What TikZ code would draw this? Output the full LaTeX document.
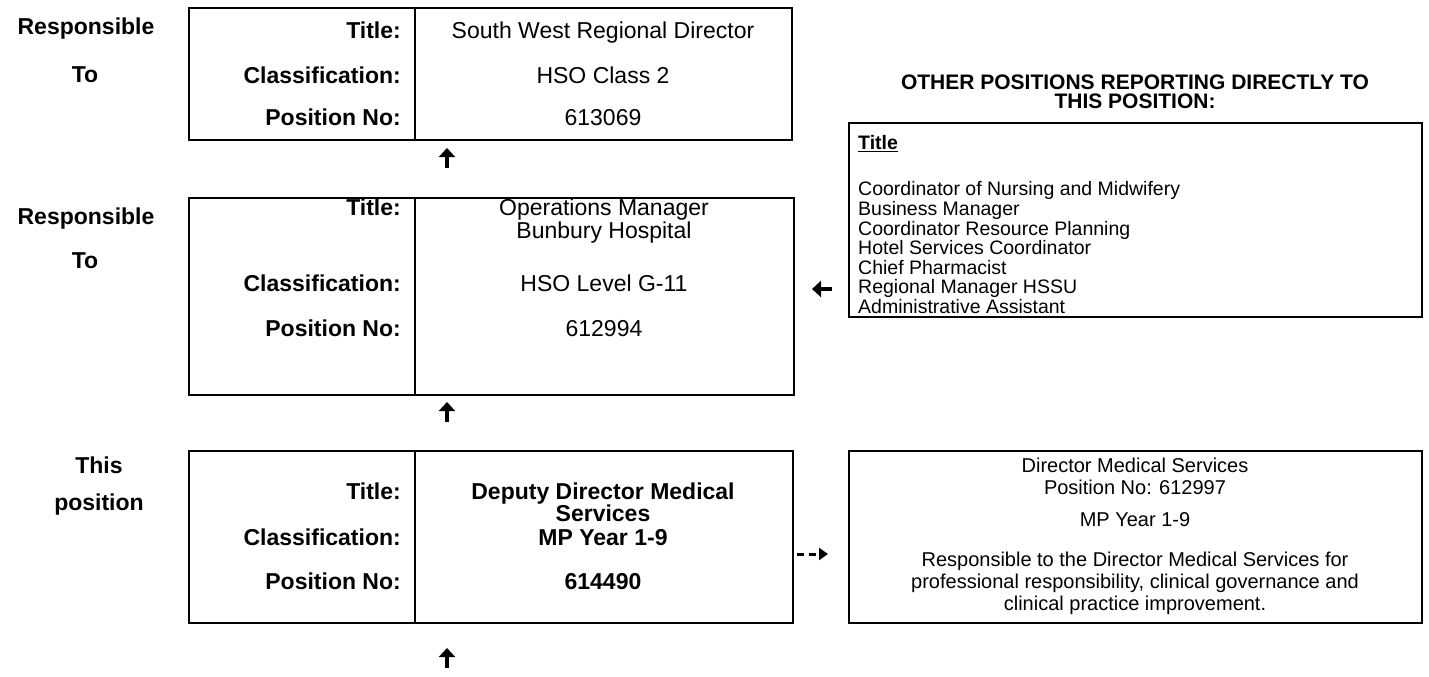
\documentclass[tikz,border=0pt]{standalone}
\usepackage{fontspec}
\setmainfont{Liberation Sans}
\usetikzlibrary{arrows.meta}
\begin{document}
\begin{tikzpicture}[x=1pt,y=-1pt,
  box/.style={draw,line width=2pt,anchor=north west,inner sep=0pt},
  div/.style={line width=1.6pt},
  lbl/.style={font=\fontsize{23}{23}\selectfont\bfseries,anchor=base east,inner sep=0pt},
  val/.style={font=\fontsize{23}{23}\selectfont,anchor=base,inner sep=0pt},
  bval/.style={font=\fontsize{23}{23}\selectfont\bfseries,anchor=base,inner sep=0pt},
  side/.style={font=\fontsize{23}{23}\selectfont\bfseries,anchor=base,inner sep=0pt},
  uparrow/.style={line width=4pt,-{Triangle[width=16pt,length=9pt]}},
  dasharrow/.style={line width=3pt,dash pattern=on 7pt off 5pt,-{Triangle[width=12pt,length=9pt]}},
]
\useasboundingbox (0,0) rectangle (1429,677);

% ---------- box 1
\node[box,minimum width=603pt,minimum height=132pt] (b1) at (188,7) {};
\draw[div] ([xshift=227pt]b1.north west) -- ([xshift=227pt]b1.south west);
\node[side] (r1a) at (86,35) {Responsible};
\node[side] (r1b) at (85,82) {To};
\node[lbl] (t1) at (401,39) {Title:};
\node[lbl] (c1) at (401,83) {Classification:};
\node[lbl] (p1) at (401,125) {Position No:};
\node[val] (tv1) at (603,39) {South West Regional Director};
\node[val] (cv1) at (603,83) {HSO Class 2};
\node[val] (pv1) at (603,125) {613069};

\coordinate (a1s) at (447,168);
\coordinate (a1e) at (447,148);
\draw[uparrow] (a1s) -- (a1e);

% ---------- box 2
\node[box,minimum width=605pt,minimum height=197pt] (b2) at (188,197) {};
\draw[div] ([xshift=227pt]b2.north west) -- ([xshift=227pt]b2.south west);
\node[side] (r2a) at (86,224) {Responsible};
\node[side] (r2b) at (85,268) {To};
\node[lbl] (t2) at (401,215) {Title:};
\node[lbl] (c2) at (401,291) {Classification:};
\node[lbl] (p2) at (401,336) {Position No:};
\node[val] (tv2) at (604,215) {Operations Manager};
\node[val] (tv2b) at (604,238) {Bunbury Hospital};
\node[val] (cv2) at (604,291) {HSO Level G-11};
\node[val] (pv2) at (604,336) {612994};

\coordinate (a2s) at (447,422);
\coordinate (a2e) at (447,402);
\draw[uparrow] (a2s) -- (a2e);

% ---------- other positions
\node[font=\fontsize{21}{19}\selectfont\bfseries,align=center,anchor=north,inner sep=0pt] (hdr) at (1135,75)
  {OTHER POSITIONS REPORTING DIRECTLY TO\\THIS POSITION:};
\node[box,minimum width=573pt,minimum height=194pt] (rb) at (848,122) {};
\node[font=\fontsize{19.5}{19.6}\selectfont,align=left,anchor=north west,inner sep=0pt] (lst) at (858,135)
  {\underline{\textbf{Title}}\\[27pt]
   Coordinator of Nursing and Midwifery\\
   Business Manager\\
   Coordinator Resource Planning\\
   Hotel Services Coordinator\\
   Chief Pharmacist\\
   Regional Manager HSSU\\
   Administrative Assistant};
\coordinate (la1) at (832,289);
\coordinate (la2) at (812,289);
\draw[uparrow] (la1) -- (la2);

% ---------- box 3
\node[box,minimum width=604pt,minimum height=172pt] (b3) at (188,450) {};
\draw[div] ([xshift=227pt]b3.north west) -- ([xshift=227pt]b3.south west);
\node[side] (r3a) at (99,473) {This};
\node[side] (r3b) at (99,510) {position};
\node[lbl] (t3) at (401,499) {Title:};
\node[lbl] (c3) at (401,545) {Classification:};
\node[lbl] (p3) at (401,589) {Position No:};
\node[bval] (tv3) at (603,499) {Deputy Director Medical};
\node[bval] (tv3b) at (603,521) {Services};
\node[bval] (cv3) at (603,545) {MP Year 1-9};
\node[bval] (pv3) at (603,589) {614490};

\coordinate (a3s) at (447,668);
\coordinate (a3e) at (447,648);
\draw[uparrow] (a3s) -- (a3e);

% ---------- box 4
\node[box,minimum width=573pt,minimum height=172pt] (b4) at (848,450) {};
\node[font=\fontsize{20}{22}\selectfont,align=center,anchor=north,inner sep=0pt] (b4t) at (1135,458)
  {Director Medical Services\\
   Position No: 612997\\[10pt]
   MP Year 1-9\\[18pt]
   Responsible to the Director Medical Services for\\
   professional responsibility, clinical governance and\\
   clinical practice improvement.};
\coordinate (d1) at (797,554);
\coordinate (d2) at (828,554);
\draw[dasharrow] (d1) -- (d2);
\end{tikzpicture}
\end{document}
